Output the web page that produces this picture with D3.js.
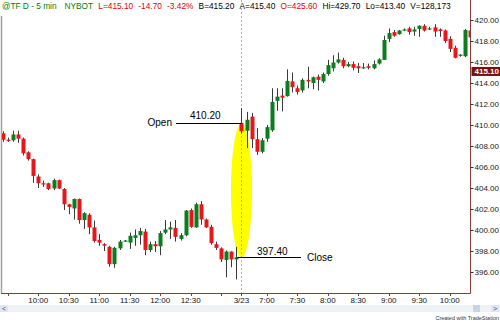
<!DOCTYPE html>
<html><head><meta charset="utf-8">
<script src="https://cdn.jsdelivr.net/npm/d3@7/dist/d3.min.js"></script>
<style>
html,body{margin:0;padding:0;background:#fff;}
svg{display:block;font-family:"Liberation Sans",Arial,sans-serif;}
</style></head>
<body>
<svg id="c" width="500" height="333"></svg>
<script>
// ---------- DATA ----------
const opens = [409.2,408.6,408.55,409.1,408.7,407.4,406.75,405.1,404.45,404.45,403.95,404.75,403.9,402.45,402.05,402.95,400.95,401.45,400.25,399.05,398.65,398.4,396.75,398.25,398.95,398.8,399.25,399.5,399.85,398.1,398.65,398.45,399.75,400.05,400.2,399.15,399.5,401.9,400.25,402.45,401.0,400.3,398.65,398.25,397.15,397.95,397.2,
  410.2,409.45,410.8,408.65,407.45,408.7,409.5,412.3,412.8,412.75,414.15,413.5,413.3,414.3,414.0,414.6,414.15,414.85,415.4,415.95,416.2,415.6,415.8,415.6,415.45,415.6,415.4,415.85,416.2,418.2,418.85,418.65,419.0,419.2,418.9,419.15,419.45,419.15,419.3,419.1,419.0,418.2,417.35,416.6,416.55,419.0];
const highs = [409.4,408.8,409.45,409.45,408.8,407.5,406.8,405.3,404.7,404.5,404.9,404.8,404.0,402.5,403.0,403.0,401.7,401.6,400.9,399.6,398.75,398.5,398.4,399.05,399.05,399.75,400.05,400.2,400.1,398.9,398.95,399.9,400.95,400.8,400.95,399.7,401.9,402.05,402.6,402.75,401.1,400.5,398.9,398.35,398.05,397.95,398.4,
  411.6,411.25,411.15,409.7,408.75,410.0,413.5,413.5,413.5,415.3,415.0,413.75,414.45,415.55,414.6,414.8,415.0,416.2,416.65,416.9,416.4,416.0,416.05,415.9,415.9,415.85,416.15,416.35,418.5,419.2,419.05,419.05,419.2,419.35,419.35,419.5,419.6,419.35,419.6,419.2,419.1,418.45,417.55,416.75,419.15,419.1];
const lows = [408.4,408.4,408.4,408.3,407.1,406.6,404.5,404.0,404.1,403.8,403.8,403.9,401.9,401.5,401.0,400.6,400.1,399.6,398.8,398.5,398.0,396.5,396.4,398.1,398.9,398.2,398.5,398.6,397.6,397.9,397.9,397.6,399.6,399.15,398.9,399.0,399.4,400.2,400.2,400.5,400.2,398.6,398.1,396.95,395.5,396.45,395.3,
  409.2,407.8,407.8,407.15,407.3,408.4,409.35,411.35,411.3,412.7,413.1,412.9,413.1,413.5,413.4,413.3,414.0,414.7,415.1,415.85,415.4,415.5,415.2,414.95,415.35,415.3,415.3,415.75,416.2,417.9,418.4,418.6,418.95,418.6,418.5,418.4,418.9,419.05,418.4,418.4,417.8,416.95,416.35,416.5,416.45,418.2];
const closes = [408.6,408.55,409.1,408.7,407.3,406.75,405.15,404.45,404.4,403.9,404.75,403.95,402.45,402.2,402.95,400.95,401.6,400.25,398.95,398.8,398.5,396.75,398.3,398.9,399.0,399.45,399.5,399.9,398.1,398.65,398.45,399.7,400.05,400.25,399.35,399.5,401.85,400.3,402.45,401.0,400.25,398.75,398.3,397.2,397.95,397.2,397.4,
  409.4,410.5,408.65,407.45,408.55,409.8,412.2,412.7,412.6,414.2,413.6,413.15,414.3,414.15,414.55,414.3,414.85,415.7,415.95,416.25,415.6,415.8,415.45,415.4,415.5,415.45,415.8,416.25,418.1,418.75,418.5,419.0,419.1,418.85,419.1,419.45,419.0,419.2,418.9,418.95,418.0,417.25,416.4,416.7,419.05,418.35];
const timeLabels = ["10:00","10:30","11:00","11:30","12:00","12:30","3/23","7:00","7:30","8:00","8:30","9:00","9:30","10:00"];
const timeLabelIdx = [7,13,19,25,31,37,47,52,58,64,70,76,82,88];
const tickIdx = [1,7,13,19,25,31,37,43,47,52,58,64,70,76,82,88];
const priceTicks = [396,398,400,402,404,406,408,410,412,414,416,418,420];
const lastPrice = 415.10;
const sessionStartIdx = 47;
const openPrice = 410.20, closePrice = 397.40;
const headerTexts = ["@TF D - 5 min","NYBOT","L=415.10","-14.70","-3.42%","B=415.20","A=415.40","O=425.60","Hi=429.70","Lo=413.40","V=128,173"];
const headerKinds = ["sym","sym","dn","dn","dn","n","n","dn","n","n","n"];

// ---------- LAYOUT ----------
const svg = d3.select("#c");
const plot = {left:1, right:470, top:0, bottom:293};
const x = d3.scaleLinear().domain([0, 92]).range([2.7, 470.06]);
const y = d3.scaleLinear().domain([396, 420]).range([272, 20]);
const RED = "#e8161b", GREEN = "#0b7d1e", AXIS = "#8b3a3a";

svg.append("defs").append("clipPath").attr("id","pc")
  .append("rect").attr("x",plot.left+1).attr("y",plot.top).attr("width",plot.right-plot.left-1).attr("height",plot.bottom-plot.top);

// header
const kindColor = {sym:"#008000", dn:"#e00000", n:"#000"};
svg.append("text").attr("x",2).attr("y",9).attr("font-size",8.3)
  .selectAll("tspan").data(headerTexts).join("tspan")
  .attr("dx",(d,i)=> i===0 ? 0 : (i===1 ? 8 : 5.2))
  .attr("fill",(d,i)=>kindColor[headerKinds[i]]).text(d=>d);

// left border
svg.append("line").attr("x1",1.5).attr("x2",1.5).attr("y1",16).attr("y2",plot.bottom).attr("stroke","#a0a0a0").attr("stroke-width",1.5);

const g = svg.append("g").attr("clip-path","url(#pc)");

// yellow highlight
const cx = x(sessionStartIdx);
g.append("ellipse").attr("cx",cx).attr("cy",(y(openPrice)+y(closePrice))/2 + 0.5)
  .attr("rx",10.5).attr("ry",(y(closePrice)-y(openPrice))/2 - 0.5).attr("fill","#ffff00");

// session divider
g.append("line").attr("x1",Math.round(cx)+0.5).attr("x2",Math.round(cx)+0.5).attr("y1",0).attr("y2",plot.bottom)
  .attr("stroke","#b0b0b0").attr("stroke-dasharray","2,2").attr("stroke-width",1);

// candles
const idx = d3.range(opens.length);
g.append("g").selectAll("line").data(idx).join("line")
  .attr("x1",i=>Math.round(x(i))+0.5).attr("x2",i=>Math.round(x(i))+0.5)
  .attr("y1",i=>y(highs[i])).attr("y2",i=>y(lows[i]))
  .attr("stroke","#3a3a3a").attr("stroke-width",1);
g.append("g").selectAll("rect").data(idx).join("rect")
  .attr("x",i=>Math.round(x(i))-1.5).attr("width",4)
  .attr("y",i=>y(Math.max(opens[i],closes[i])))
  .attr("height",i=>Math.max(1.2, Math.abs(y(opens[i])-y(closes[i]))))
  .attr("fill",i=>closes[i]>=opens[i]?GREEN:RED);

// axes lines
svg.append("line").attr("x1",plot.right+0.5).attr("x2",plot.right+0.5).attr("y1",0).attr("y2",plot.bottom+0.5).attr("stroke",AXIS);
svg.append("line").attr("x1",plot.left).attr("x2",plot.right+0.5).attr("y1",plot.bottom+0.5).attr("y2",plot.bottom+0.5).attr("stroke",AXIS);

// y axis
const yAxis = d3.axisRight(y).tickValues(priceTicks).tickFormat(d3.format(".2f")).tickSize(3).tickPadding(1);
const ya = svg.append("g").attr("transform",`translate(${plot.right+0.5},0)`).call(yAxis);
ya.select(".domain").remove();
ya.selectAll("line").attr("stroke","#333");
ya.selectAll("text").attr("font-size",8).attr("fill","#222").attr("font-family","Liberation Sans, Arial, sans-serif");

// last price box
svg.append("rect").attr("x",471.5).attr("y",y(lastPrice)-4.5).attr("width",28.5).attr("height",9).attr("fill","#7a0f0f");
svg.append("text").attr("x",474.5).attr("y",y(lastPrice)+3).attr("font-size",8).attr("fill","#fff").attr("font-weight","bold").text(d3.format(".2f")(lastPrice));

// x axis
const xa = svg.append("g");
xa.selectAll("line").data(tickIdx).join("line")
  .attr("x1",i=>Math.round(x(i))+0.5).attr("x2",i=>Math.round(x(i))+0.5)
  .attr("y1",plot.bottom).attr("y2",plot.bottom+3).attr("stroke",AXIS);
xa.selectAll("text").data(timeLabels).join("text")
  .attr("x",(d,i)=>x(timeLabelIdx[i])).attr("y",303).attr("text-anchor","middle")
  .attr("font-size",8).attr("fill","#111").text(d=>d);

// annotations
const ann = svg.append("g").attr("font-size",10).attr("fill","#000");
ann.append("line").attr("x1",176).attr("x2",cx).attr("y1",Math.round(y(openPrice))+0.5).attr("y2",Math.round(y(openPrice))+0.5).attr("stroke","#000");
ann.append("text").attr("x",172).attr("y",y(openPrice)+3.5).attr("text-anchor","end").text("Open");
ann.append("text").attr("x",190).attr("y",y(openPrice)-3.5).text(d3.format(".2f")(openPrice));
ann.append("line").attr("x1",cx-4).attr("x2",301).attr("y1",Math.round(y(closePrice))+0.5).attr("y2",Math.round(y(closePrice))+0.5).attr("stroke","#000");
ann.append("text").attr("x",257).attr("y",y(closePrice)-2).text(d3.format(".2f")(closePrice));
ann.append("text").attr("x",307).attr("y",y(closePrice)+3.5).text("Close");

// scrollbar
svg.append("rect").attr("x",0).attr("y",305).attr("width",500).attr("height",7).attr("fill","#eef1f5");
svg.append("rect").attr("x",0).attr("y",305).attr("width",8).attr("height",7).attr("fill","#dfe6ef");
svg.append("text").attr("x",2).attr("y",311).attr("font-size",7).attr("fill","#3050a0").text("<");
svg.append("rect").attr("x",473).attr("y",305).attr("width",7).attr("height",7).attr("fill","#c8d4e6");
svg.append("rect").attr("x",491).attr("y",305).attr("width",8).attr("height",7).attr("fill","#dfe6ef");
svg.append("text").attr("x",493).attr("y",311).attr("font-size",7).attr("fill","#3050a0").text(">");
svg.append("text").attr("x",499).attr("y",320).attr("text-anchor","end").attr("font-size",5.5).attr("fill","#333").text("Created with TradeStation");
</script>
</body></html>
